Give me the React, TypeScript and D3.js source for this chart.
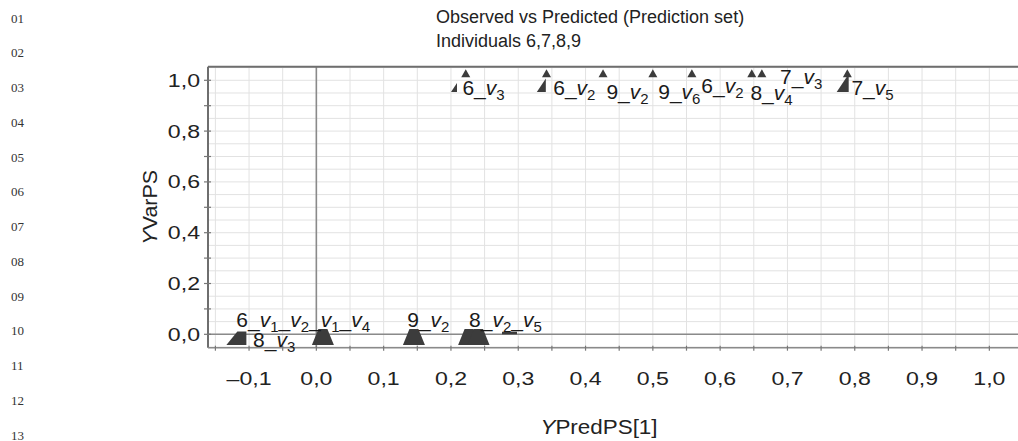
import React from "react";
import * as d3 from "d3";

// ---- data ----
const titleLines = ["Observed vs Predicted (Prediction set)", "Individuals 6,7,8,9"];
const xTicks = [-0.1, 0, 0.1, 0.2, 0.3, 0.4, 0.5, 0.6, 0.7, 0.8, 0.9, 1.0];
const yTicks = [0, 0.2, 0.4, 0.6, 0.8, 1.0];
const lineNumbers = ["01", "02", "03", "04", "05", "06", "07", "08", "09", "10", "11", "12", "13"];

// small triangles near Y = 1
const topTriX = [0.222, 0.342, 0.426, 0.5, 0.558, 0.647, 0.662, 0.789];
const topTriY = [1.012, 1.012, 1.012, 1.012, 1.012, 1.012, 1.012, 1.012];
// right-angled wedges (partly hidden markers) near Y = 1
const wedgeX = [0.209, 0.341, 0.791];
const wedgeY = [0.954, 0.954, 0.954];
const wedgeSize = [0.5, 0.75, 1.0];
// truncated triangles near Y = 0
const trapX = [0.0097, 0.145, 0.227, 0.241];
const trapY = [-0.042, -0.042, -0.042, -0.042];
const halfTrapX = [-0.104];
const halfTrapY = [-0.042];
const barX = [0.287];
const barY = [0.005];

const labelText = ["6_v3", "6_v2", "9_v2", "9_v6", "6_v2", "8_v4", "7_v3", "7_v5", "6_v1_v2_v1_v4", "8_v3", "9_v2", "8_v2_v5"];
const labelX = [0.217, 0.352, 0.431, 0.508, 0.572, 0.645, 0.689, 0.795, -0.119, -0.094, 0.135, 0.227];
const labelY = [0.941, 0.944, 0.928, 0.928, 0.948, 0.924, 0.987, 0.941, 0.03, -0.051, 0.03, 0.03];

const W = 1018;
const H = 441;
const FONT = "'Liberation Sans', Arial, Helvetica, sans-serif";
const MARK = "#3c3c3c";

const x = d3.scaleLinear().domain([-0.161, 1.046]).range([208, 1020.3]);
const y = d3.scaleLinear().domain([-0.0527, 1.0535]).range([347.7, 66.7]);

const SUB = 5;
function labelSpans(text: string) {
  const parts = text.split(/(v\d)/).filter((p) => p.length > 0);
  const out: React.ReactNode[] = [];
  let shifted = false;
  parts.forEach((p, i) => {
    if (/^v\d$/.test(p)) {
      out.push(
        <tspan key={i + "v"} fontStyle="italic" dy={shifted ? -SUB : 0}>v</tspan>
      );
      out.push(
        <tspan key={i + "s"} fontSize={15} dy={SUB}>{p[1]}</tspan>
      );
      shifted = true;
    } else {
      out.push(
        <tspan key={i + "t"} dy={shifted ? -SUB : 0}>{p}</tspan>
      );
      shifted = false;
    }
  });
  return out;
}

const fmt = (v: number) => (v < 0 ? "\u2013" : "") + d3.format(".1f")(Math.abs(v)).replace(".", ",");

export default function App() {
  const [x0, x1] = x.range();
  const [y0, y1] = y.range();
  const gridX = d3.range(-0.15, 1.0501, 0.05);
  const gridY = d3.range(-0.05, 1.0501, 0.05);
  const tickX = d3.range(-0.15, 1.0501, 0.05);
  const tickY = d3.range(0, 1.0001, 0.1);

  return (
    <svg width={W} height={H} style={{ position: "absolute", left: 0, top: 0, background: "#fff" }} fontFamily={FONT}>
      {/* line numbers */}
      {lineNumbers.map((n, i) => (
        <text key={n} x={11} y={22.5 + i * 34.75} fontFamily="'Liberation Serif', 'Times New Roman', serif" fontSize={13} fill="#333">{n}</text>
      ))}
      {/* title */}
      {titleLines.map((t, i) => (
        <text key={t} x={436} y={22.5 + i * 24.5} fontSize={18} fill="#222">{t}</text>
      ))}
      {/* grid */}
      <g stroke="#e2e2e2" strokeWidth={1}>
        {gridX.map((v) => (
          <line key={"gx" + v} x1={x(v)} x2={x(v)} y1={y1} y2={y0} />
        ))}
        {gridY.map((v) => (
          <line key={"gy" + v} x1={x0} x2={x1} y1={y(v)} y2={y(v)} />
        ))}
      </g>
      {/* zero lines */}
      <line x1={x(0)} x2={x(0)} y1={y1} y2={y0} stroke="#8a8a8a" strokeWidth={1.6} />
      <line x1={x0} x2={x1} y1={y(0)} y2={y(0)} stroke="#8a8a8a" strokeWidth={1.6} />
      {/* frame */}
      <line x1={x0} x2={x1} y1={y1} y2={y1} stroke="#6e6e6e" strokeWidth={2} />
      <line x1={x0} x2={x0} y1={y1} y2={y0} stroke="#6e6e6e" strokeWidth={2} />
      <line x1={x0} x2={x1} y1={y0} y2={y0} stroke="#8a8a8a" strokeWidth={1.5} />
      {/* ticks */}
      {tickX.map((v) => (
        <line key={"tx" + v} x1={x(v)} x2={x(v)} y1={y0 - 2} y2={y0 + 3} stroke="#777" strokeWidth={1.2} />
      ))}
      {tickY.map((v) => (
        <line key={"ty" + v} x1={x0 - 4} x2={x0 + 3} y1={y(v)} y2={y(v)} stroke="#777" strokeWidth={1.2} />
      ))}
      {/* tick labels */}
      {xTicks.map((v) => (
        <text key={"lx" + v} transform={`translate(${x(v)},385) scale(1.25,1)`} textAnchor="middle" fontSize={18.5} fill="#222">
          {fmt(v)}
        </text>
      ))}
      {yTicks.map((v) => (
        <text key={"ly" + v} transform={`translate(200,${y(v) + 6.5}) scale(1.25,1)`} textAnchor="end" fontSize={18.5} fill="#222">
          {fmt(v)}
        </text>
      ))}
      {/* axis titles */}
      <text transform="translate(599,434) scale(1.15,1)" textAnchor="middle" fontSize={19.5} fill="#222">
        <tspan fontStyle="italic">Y</tspan>PredPS[1]
      </text>
      <text transform={`translate(157,${y(0.5)}) rotate(-90) scale(1.1,1)`} textAnchor="middle" fontSize={19.5} fill="#222">
        <tspan fontStyle="italic">Y</tspan>VarPS
      </text>
      {/* markers */}
      <g fill={MARK}>
        {topTriX.map((v, i) => {
          const cx = x(v), by = y(topTriY[i]);
          return <path key={"tt" + i} d={`M${cx - 4.5},${by}L${cx + 4.5},${by}L${cx},${by - 8}Z`} />;
        })}
        {wedgeX.map((v, i) => {
          const rx = x(v), by = y(wedgeY[i]);
          const w = 12 * wedgeSize[i], h = 18 * wedgeSize[i];
          return <path key={"w" + i} d={`M${rx - w},${by}L${rx},${by}L${rx},${by - h}Z`} />;
        })}
        {trapX.map((v, i) => {
          const cx = x(v), by = y(trapY[i]);
          return <path key={"tr" + i} d={`M${cx - 11},${by}L${cx + 11},${by}L${cx + 4.5},${by - 16}L${cx - 4.5},${by - 16}Z`} />;
        })}
        {halfTrapX.map((v, i) => {
          const rx = x(v), by = y(halfTrapY[i]);
          return <path key={"ht" + i} d={`M${rx - 20},${by}L${rx},${by}L${rx},${by - 13.5}L${rx - 9},${by - 13.5}Z`} />;
        })}
        {barX.map((v, i) => {
          const cx = x(v), cy = y(barY[i]);
          return <rect key={"b" + i} x={cx - 7.5} y={cy - 1.3} width={15} height={2.6} />;
        })}
      </g>
      {/* labels */}
      {labelText.map((t, i) => (
        <text key={"lab" + i} x={x(labelX[i])} y={y(labelY[i])} fontSize={21} fill="#1a1a1a">
          {labelSpans(t)}
        </text>
      ))}
    </svg>
  );
}
